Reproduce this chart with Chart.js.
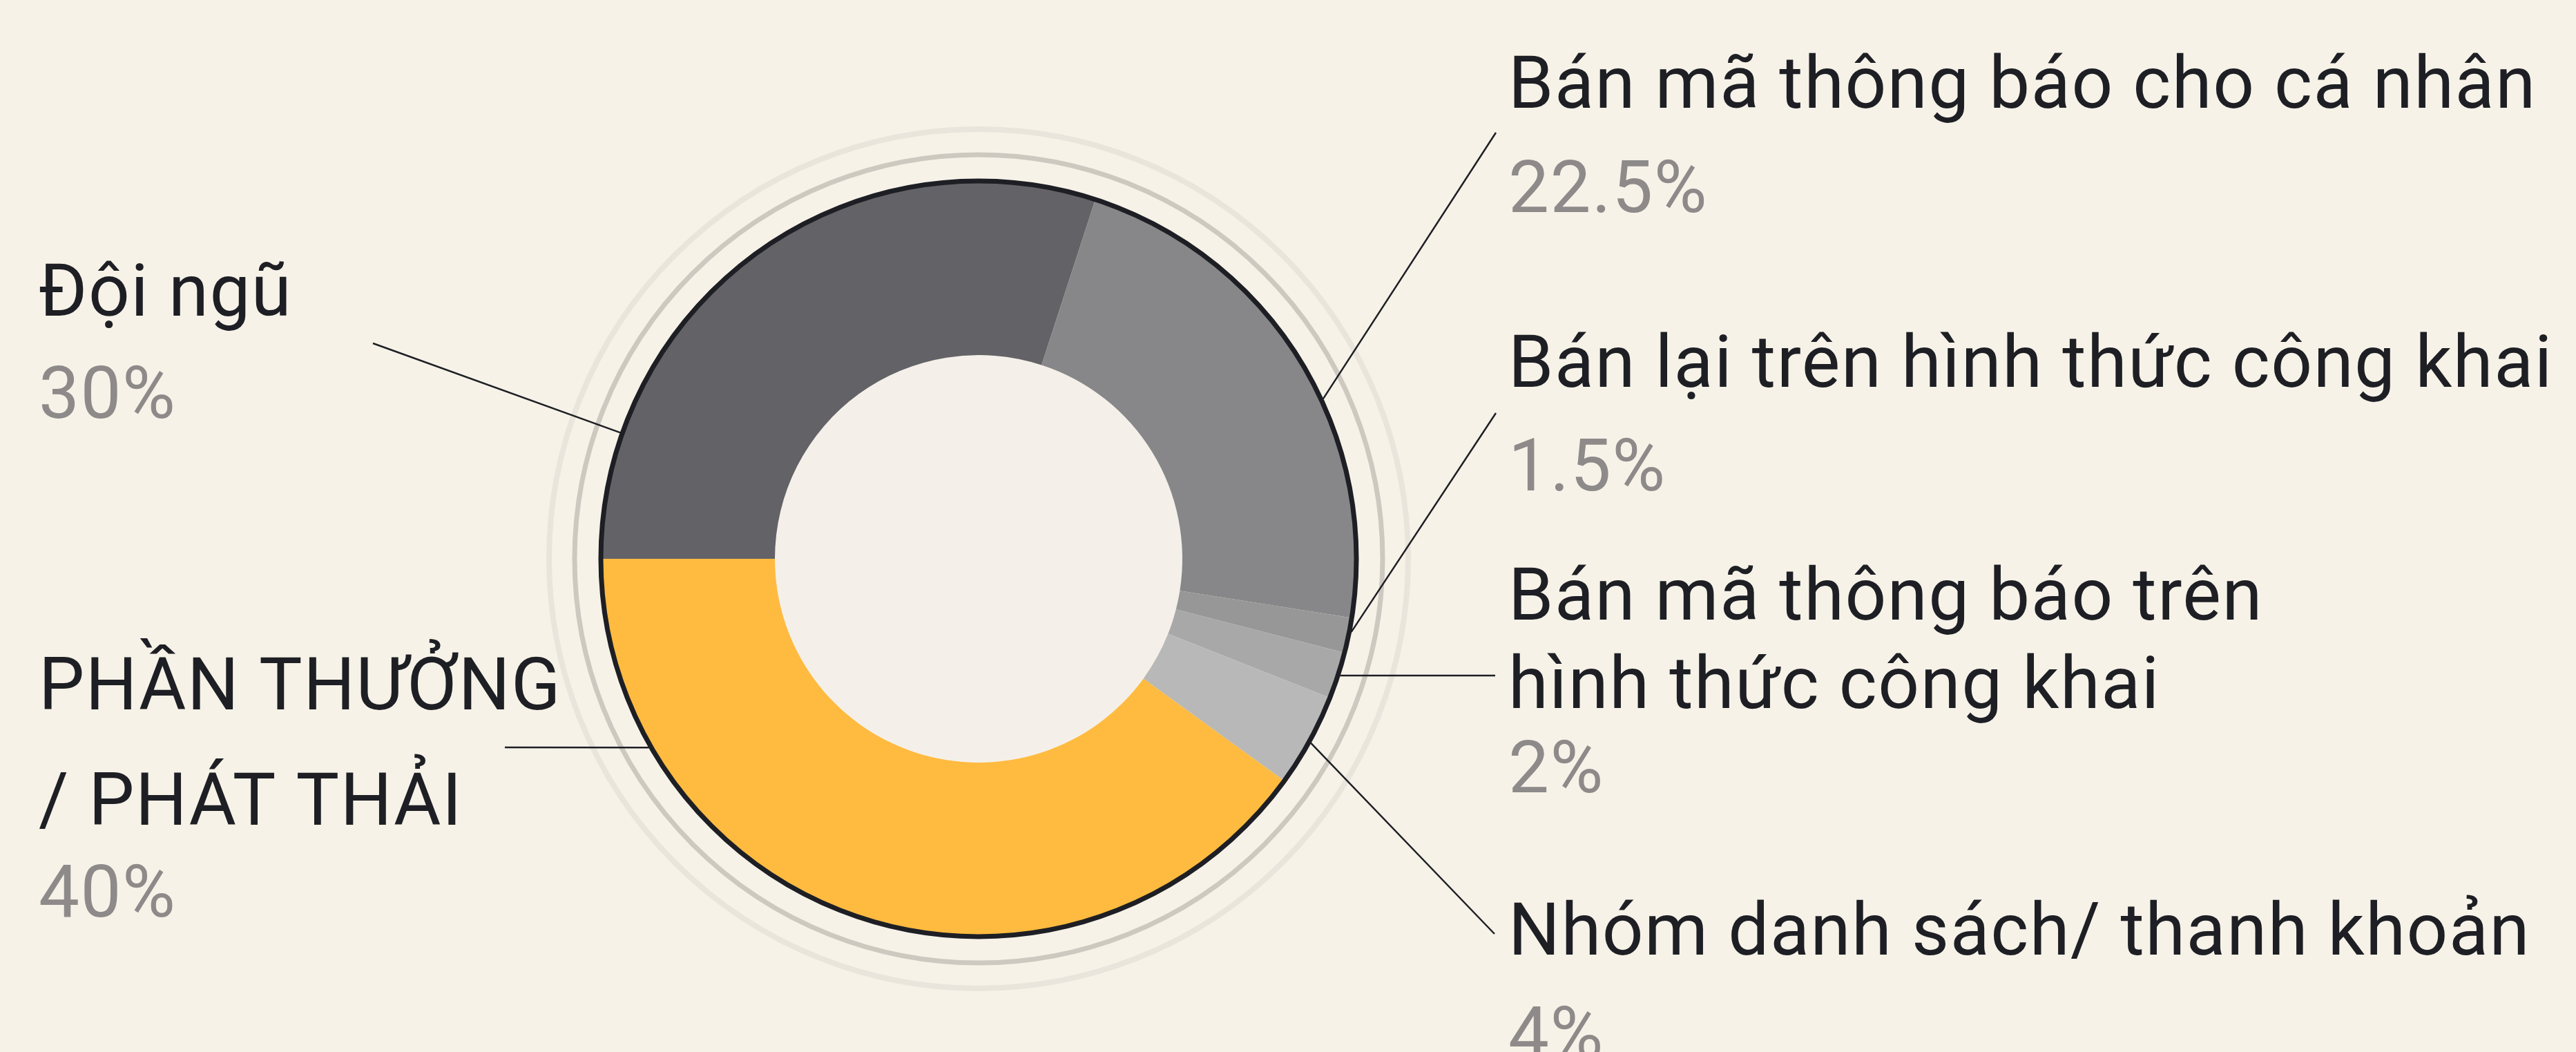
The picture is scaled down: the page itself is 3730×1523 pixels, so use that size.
<!DOCTYPE html>
<html lang="vi">
<head>
<meta charset="utf-8">
<title>Phân bổ mã thông báo</title>
<script src="https://cdn.jsdelivr.net/npm/chart.js@4.4.1/dist/chart.umd.min.js"></script>
<style>
  html, body { margin: 0; padding: 0; background: #f6f2e8; overflow: hidden; }
  #tokenChart { display: block; }
</style>
</head>
<body>
<canvas id="tokenChart" width="3730" height="1523"></canvas>
<script>
// data (clockwise, starting at 9 o'clock)
const categories = [
  ['Đội ngũ'],
  ['Bán mã thông báo cho cá nhân'],
  ['Bán lại trên hình thức công khai'],
  ['Bán mã thông báo trên', 'hình thức công khai'],
  ['Nhóm danh sách/ thanh khoản'],
  ['PHẦN THƯỞNG', '/ PHÁT THẢI']
];
const shares = [30, 22.5, 1.5, 2, 4, 40];
const shareLabels = shares.map(v => v + '%');

const sliceColors = ['#636267', '#878789', '#979797', '#a8a8a8', '#b8b8b8', '#ffbb40'];

// where each label sits: text x, baselines (name lines + percent), leader angle on the rim, leader end
const labelLayout = [
  { x: 56,   lines: [457, 605],        angle: -160.6, end: [540, 497] },
  { x: 2184, lines: [156, 307],        angle: -24.9,  end: [2166, 192] },
  { x: 2184, lines: [560, 710],        angle: 11.1,   end: [2166, 598] },
  { x: 2184, lines: [897, 1025, 1147], angle: 17.9,   end: [2165, 978] },
  { x: 2184, lines: [1382, 1532],      angle: 29.0,   end: [2164, 1352] },
  { x: 56,   lines: [1027, 1194, 1327], angle: 150.2, end: [731, 1082] }
];

const inkColor = '#1e1f24';
const pctColor = '#8d8a89';
const labelFont = '400 105px Roboto, "Noto Sans", sans-serif';

const decorPlugin = {
  id: 'decor',
  beforeDatasetsDraw(chart) {
    const ctx = chart.ctx;
    const arc = chart.getDatasetMeta(0).data[0];
    const { x, y, outerRadius, innerRadius } = arc.getProps(['x', 'y', 'outerRadius', 'innerRadius'], true);
    ctx.save();
    // outer decorative rings
    ctx.lineWidth = 8;
    ctx.strokeStyle = '#e9e5dc';
    ctx.beginPath();
    ctx.arc(x, y, outerRadius + 75, 0, Math.PI * 2);
    ctx.stroke();
    ctx.lineWidth = 7;
    ctx.strokeStyle = '#cdc9c1';
    ctx.beginPath();
    ctx.arc(x, y, outerRadius + 38, 0, Math.PI * 2);
    ctx.stroke();
    // hole
    ctx.fillStyle = '#f4f0e9';
    ctx.beginPath();
    ctx.arc(x, y, innerRadius, 0, Math.PI * 2);
    ctx.fill();
    ctx.restore();
  },
  afterDatasetsDraw(chart) {
    const ctx = chart.ctx;
    const arc = chart.getDatasetMeta(0).data[0];
    const { x, y, outerRadius } = arc.getProps(['x', 'y', 'outerRadius'], true);
    ctx.save();
    // dark rim
    ctx.lineWidth = 7;
    ctx.strokeStyle = inkColor;
    ctx.beginPath();
    ctx.arc(x, y, outerRadius, 0, Math.PI * 2);
    ctx.stroke();

    // leaders + labels
    ctx.lineWidth = 2.5;
    ctx.font = labelFont;
    ctx.letterSpacing = '1.5px';
    ctx.textBaseline = 'alphabetic';
    ctx.textAlign = 'left';
    chart.data.labels.forEach((lines, i) => {
      const pos = labelLayout[i];
      const a = pos.angle * Math.PI / 180;
      ctx.strokeStyle = inkColor;
      ctx.beginPath();
      ctx.moveTo(x + Math.cos(a) * (outerRadius + 3), y + Math.sin(a) * (outerRadius + 3));
      ctx.lineTo(pos.end[0], pos.end[1]);
      ctx.stroke();

      ctx.fillStyle = inkColor;
      lines.forEach((t, j) => ctx.fillText(t, pos.x, pos.lines[j]));
      ctx.fillStyle = pctColor;
      ctx.fillText(shareLabels[i], pos.x, pos.lines[lines.length]);
    });
    ctx.restore();
  }
};

const tokenChart = new Chart(document.getElementById('tokenChart'), {
  type: 'doughnut',
  data: {
    labels: categories,
    datasets: [{
      data: shares,
      backgroundColor: sliceColors,
      borderWidth: 0,
      hoverOffset: 0,
      offset: 0
    }]
  },
  options: {
    responsive: false,
    devicePixelRatio: 1,
    animation: false,
    rotation: -90,
    radius: 547,
    cutout: 295,
    layout: { padding: { left: 870, right: 1766, top: 262, bottom: 167 } },
    plugins: {
      legend: { display: false },
      tooltip: { enabled: false }
    },
    events: []
  },
  plugins: [decorPlugin]
});
</script>
</body>
</html>
